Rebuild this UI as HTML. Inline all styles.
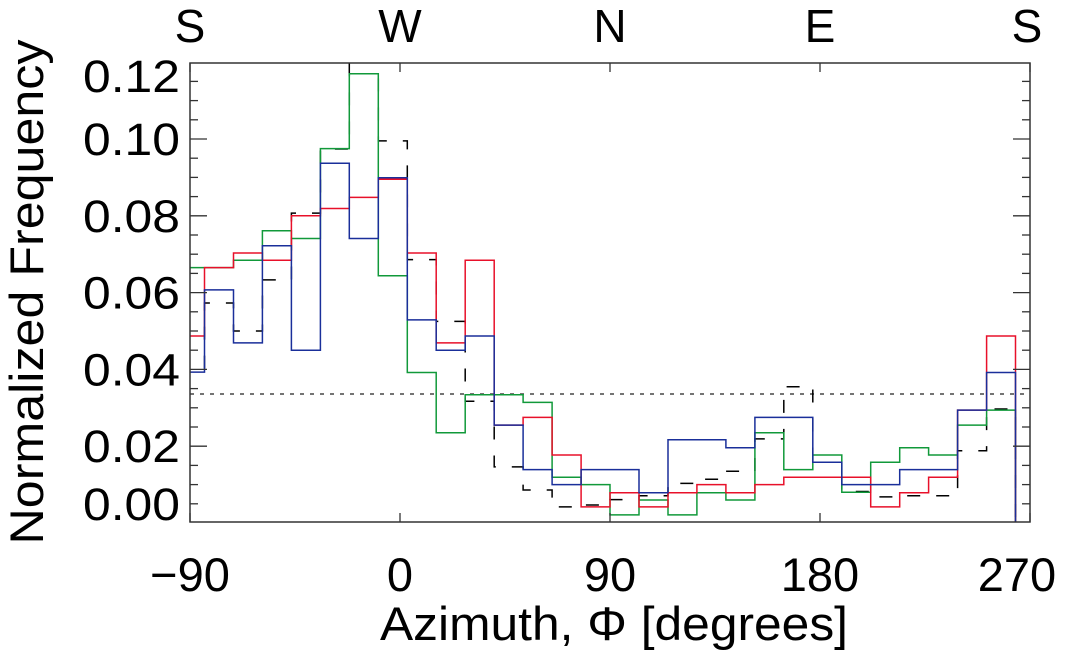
<!DOCTYPE html>
<html><head><meta charset="utf-8"><style>
html,body{margin:0;padding:0;background:#fff;}
svg{display:block;font-family:"Liberation Sans",Helvetica,sans-serif;}
</style></head><body>
<svg id="chart" width="1074" height="654" viewBox="0 0 1074 654" xmlns="http://www.w3.org/2000/svg">
<defs><clipPath id="pc"><rect x="190" y="63" width="840" height="459"/></clipPath></defs>
<g id="marks" clip-path="url(#pc)"></g>
<g id="axes"></g>
</svg>
<script>
const binStart = -96.2;
const binWidth = 12.414;
const redVals = [0.0487,0.0665,0.0703,0.0684,0.0800,0.0819,0.0848,0.0895,0.0703,0.0469,0.0684,0.0255,0.0275,0.0177,0.0042,0.0079,0.0042,0.0079,0.0100,0.0079,0.0100,0.0119,0.0119,0.0119,0.0042,0.0079,0.0119,0.0294,0.0487];
const blueVals = [0.0393,0.0607,0.0469,0.0722,0.0450,0.0937,0.0741,0.0899,0.0529,0.0450,0.0487,0.0255,0.0139,0.0100,0.0139,0.0139,0.0079,0.0217,0.0217,0.0196,0.0275,0.0275,0.0158,0.0100,0.0100,0.0139,0.0139,0.0294,0.0392];
const greenVals = [0.0665,0.0665,0.0684,0.0761,0.0741,0.0975,0.1170,0.0644,0.0392,0.0235,0.0334,0.0334,0.0314,0.0119,0.0100,0.0021,0.0060,0.0021,0.0079,0.0060,0.0235,0.0139,0.0177,0.0080,0.0158,0.0196,0.0177,0.0255,0.0294];
const blackVals = [0.0402,0.0573,0.0500,0.0633,0.0807,0.0974,0.1236,0.0995,0.0686,0.0525,0.0317,0.0146,0.0086,0.0042,0.0047,0.0061,0.0071,0.0103,0.0114,0.0135,0.0219,0.0355,0.0158,0.0082,0.0068,0.0071,0.0071,0.0188,0.0297];
const refLevel = 0.0336;
const xTicks = [-90,0,90,180,270];
const xTickLabels = ["\u221290","0","90","180","270"];
const compass = ["S","W","N","E","S"];
const yTicks = [0.005,0.02,0.04,0.06,0.08,0.10,0.12];
const yTickLabels = ["0.00","0.02","0.04","0.06","0.08","0.10","0.12"];

const X0=190,X1=1030,Y0=522,Y1=63;
const xs = d => X0 + (d+90)*(X1-X0)/360;
const ys = v => 523 - v*3840;
const NS="http://www.w3.org/2000/svg";
const marks=document.getElementById('marks'), axes=document.getElementById('axes');
function mk(tag,attrs,parent){const e=document.createElementNS(NS,tag);for(const k in attrs)e.setAttribute(k,attrs[k]);parent.appendChild(e);return e;}

function stepPath(vals){
  let d="";
  vals.forEach((v,i)=>{const a=xs(binStart+i*binWidth),b=xs(binStart+(i+1)*binWidth);
    d+=(i===0?"M":"L")+a.toFixed(1)+","+ys(v).toFixed(1)+"L"+b.toFixed(1)+","+ys(v).toFixed(1);});
  d+="L"+xs(binStart+vals.length*binWidth).toFixed(1)+","+(Y0+5);
  return d;
}
const ref=mk('line',{x1:X0,x2:X1,y1:ys(refLevel),y2:ys(refLevel),stroke:'#222','stroke-width':1.3,'stroke-dasharray':'4,6'},marks);


const series=[[blackVals,'#000','13,16','series-black-dashed'],[greenVals,'#11993a',null,'series-green'],[redVals,'#e8102a',null,'series-red'],[blueVals,'#1a2f9a',null,'series-blue']];
series.forEach(s=>{
  const p=mk('path',{d:stepPath(s[0]),fill:'none',stroke:s[1],'stroke-width':1.5},marks);
  if(s[2])p.setAttribute('stroke-dasharray',s[2]);
  
  
});
const fr=mk('rect',{x:X0,y:Y1,width:X1-X0,height:Y0-Y1,fill:'none',stroke:'#333','stroke-width':1.5},axes);


for(let k=1;k<=24;k++){
  const v=k*0.005, major=(k%4===0), L=major?17:8, y=ys(v);
  if(y<Y1+1)continue;
  mk('line',{x1:X0,x2:X0+L,y1:y,y2:y,stroke:'#333','stroke-width':1.3},axes);
  mk('line',{x1:X1,x2:X1-L,y1:y,y2:y,stroke:'#333','stroke-width':1.3},axes);
}
yTicks.forEach((v,i)=>{
  let y=ys(v)+16; if(y-16<70)y=92;
  const t=mk('text',{x:180,y:y,'text-anchor':'end','font-size':45,textLength:97,lengthAdjust:'spacingAndGlyphs'},axes);
  t.textContent=yTickLabels[i];
  
  
});
xTicks.forEach((d,i)=>{
  const x=xs(d);
  mk('line',{x1:x,x2:x,y1:Y0,y2:Y0-9,stroke:'#333','stroke-width':1.3},axes);
  mk('line',{x1:x,x2:x,y1:Y1,y2:Y1+9,stroke:'#333','stroke-width':1.3},axes);
  const t=mk('text',{x:Math.min(x,1017),y:591,'text-anchor':'middle','font-size':47},axes);
  t.textContent=xTickLabels[i];
  
  
  const c=mk('text',{x:Math.min(Math.max(x,190),1027),y:42,'text-anchor':'middle','font-size':46},axes);
  c.textContent=compass[i];
  
  
});
const xt=mk('text',{x:614,y:640,'text-anchor':'middle','font-size':47,textLength:468,lengthAdjust:'spacingAndGlyphs'},axes);
xt.textContent="Azimuth, \u03A6 [degrees]";


const yt=mk('text',{x:0,y:0,'text-anchor':'middle','font-size':47,textLength:505,lengthAdjust:'spacingAndGlyphs',transform:'translate(43,292) rotate(-90)'},axes);
yt.textContent="Normalized Frequency";


</script>
</body></html>
